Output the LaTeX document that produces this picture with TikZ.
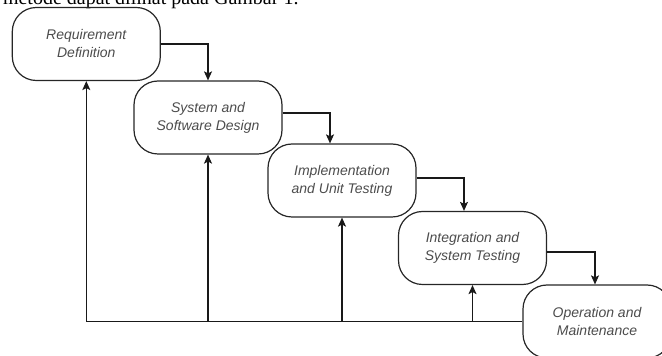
\documentclass[tikz,border=0pt]{standalone}
\usepackage{fontspec}
\setmainfont{Liberation Serif}
\newfontfamily\boxfont{Liberation Sans}
\usepackage{tikz}
\usetikzlibrary{arrows.meta,calc}
\tikzstyle{phase}=[rectangle, draw=black!85, rounded corners=24pt,% rounded box of one phase
line width=1.2pt, minimum width=148pt, minimum height=73pt, inner sep=0pt,
align=center, text=black!70, font=\boxfont\itshape\fontsize{14}{18}\selectfont]
\tikzstyle{flow}=[-{Stealth[length=9pt,width=8pt,inset=2pt]}, draw=black!90, line width=1.2pt]

\begin{document}
\begin{tikzpicture}[x=1pt,y=1pt]
\useasboundingbox (0,0) rectangle (662,356);
\clip (0,0) rectangle (662,356);
\node[anchor=base east, font=\fontsize{20}{24}\selectfont] (cap) at (302,351.7) {i metode dapat dilihat pada Gambar 1.};
\node[phase] (s1) at (86.3,312) {Requirement\\Definition};
\node[phase] (s2) at (208,238.5) {System and\\Software Design};
\node[phase] (s3) at (342,175.5) {Implementation\\and Unit Testing};
\node[phase] (s4) at (472.5,108) {Integration and\\System Testing};
\node[phase] (s5) at (597,34.5) {Operation and\\Maintenance};
\coordinate (fb) at (s5.west);
\draw[flow] (s1.east) -| (s2.north);
\draw[flow] ([yshift=4.5pt]s2.east) -| ([xshift=-12pt]s3.north);
\draw[flow] ([yshift=2.5pt]s3.east) -| ([xshift=-8.5pt]s4.north);
\draw[flow] ([yshift=-4pt]s4.east) -| ([xshift=-2pt]s5.north);
\draw[flow] (fb) -| (s1.south);
\draw[flow] (s2.south |- fb) -- (s2.south);
\draw[flow] (s3.south |- fb) -- (s3.south);
\draw[flow] (s4.south |- fb) -- (s4.south);
\end{tikzpicture}
\end{document}
